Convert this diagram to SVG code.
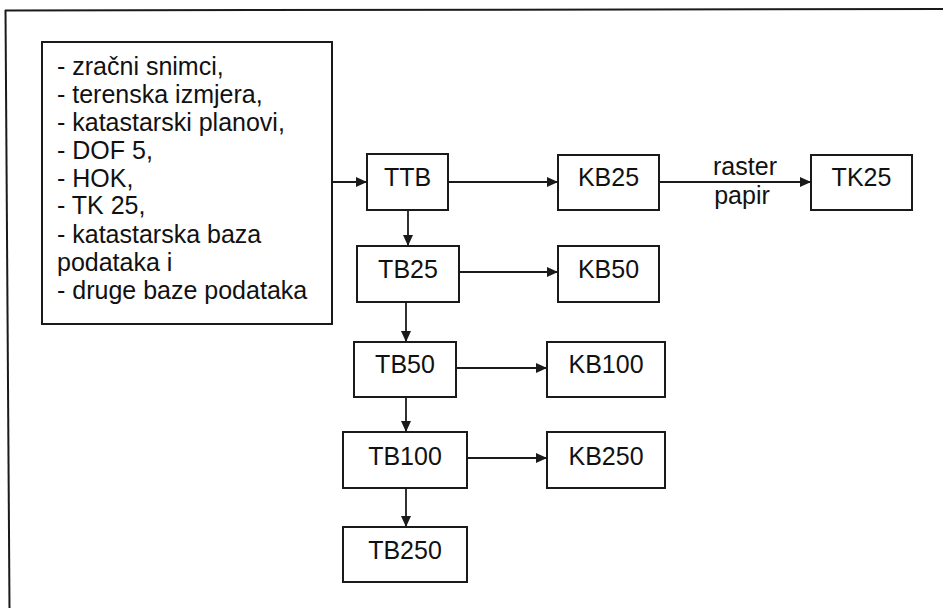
<svg xmlns="http://www.w3.org/2000/svg" width="943" height="608" viewBox="0 0 943 608">
<style>
  .box { fill: #fff; stroke: #1a1a1a; stroke-width: 2; }
  .lbl { font-family: "Liberation Sans", Arial, sans-serif; font-size: 25px; fill: #111; text-anchor: middle; }
  .src { font-family: "Liberation Sans", Arial, sans-serif; font-size: 25px; fill: #111; }
  .edge { fill: none; stroke: #1a1a1a; stroke-width: 1.8; marker-end: url(#arr); }
  .frame { fill: none; stroke: #1a1a1a; stroke-width: 2; }
</style>
<defs>
  <marker id="arr" viewBox="0 0 11 10" refX="11" refY="5" markerWidth="11" markerHeight="10" markerUnits="userSpaceOnUse" orient="auto">
    <path d="M0,0 L11,5 L0,10 Z" fill="#1a1a1a"/>
  </marker>
</defs>
<rect width="943" height="608" fill="#fff"/>
<g id="frame">
  <path class="frame" d="M5,10.5 L943,9"/>
  <path class="frame" d="M5.5,10 L9.5,608"/>
</g>
<g id="sources">
  <rect class="box" x="42" y="42" width="290" height="282"/>
  <text class="src" x="57" y="75">- zračni snimci,</text>
  <text class="src" x="57" y="103">- terenska izmjera,</text>
  <text class="src" x="57" y="131">- katastarski planovi,</text>
  <text class="src" x="57" y="159">- DOF 5,</text>
  <text class="src" x="57" y="187">- HOK,</text>
  <text class="src" x="57" y="214">- TK 25,</text>
  <text class="src" x="57" y="243">- katastarska baza</text>
  <text class="src" x="57" y="271">podataka i</text>
  <text class="src" x="57" y="299">- druge baze podataka</text>
</g>
<g id="TTB"><rect class="box" x="367" y="154" width="81" height="56"/><text class="lbl" x="407.5" y="186">TTB</text></g>
<g id="KB25"><rect class="box" x="558" y="155" width="101" height="55"/><text class="lbl" x="608.5" y="186">KB25</text></g>
<g id="TK25"><rect class="box" x="811" y="155" width="101" height="55"/><text class="lbl" x="861.5" y="186">TK25</text></g>
<g id="TB25"><rect class="box" x="357" y="246" width="102" height="56"/><text class="lbl" x="408" y="278">TB25</text></g>
<g id="KB50"><rect class="box" x="558" y="246" width="101" height="56"/><text class="lbl" x="608.5" y="278">KB50</text></g>
<g id="TB50"><rect class="box" x="354" y="342" width="102" height="55"/><text class="lbl" x="405" y="373">TB50</text></g>
<g id="KB100"><rect class="box" x="547" y="342" width="118" height="55"/><text class="lbl" x="606" y="373">KB100</text></g>
<g id="TB100"><rect class="box" x="343" y="432" width="124" height="56"/><text class="lbl" x="405" y="465">TB100</text></g>
<g id="KB250"><rect class="box" x="547" y="432" width="118" height="56"/><text class="lbl" x="606" y="465">KB250</text></g>
<g id="TB250"><rect class="box" x="343" y="527" width="124" height="55"/><text class="lbl" x="405" y="559">TB250</text></g>
<g id="connectors">
  <path class="edge" d="M332,182 L367,182"/>
  <path class="edge" d="M448,182 L558,182"/>
  <path class="edge" d="M659,182 L811,182"/>
  <text class="lbl" x="745" y="175">raster</text>
  <text class="lbl" x="742" y="204">papir</text>
  <path class="edge" d="M408,210 L408,246"/>
  <path class="edge" d="M459,272 L558,272"/>
  <path class="edge" d="M406,302 L406,342"/>
  <path class="edge" d="M456,368 L547,368"/>
  <path class="edge" d="M406,397 L406,432"/>
  <path class="edge" d="M467,458 L547,458"/>
  <path class="edge" d="M406,488 L406,527"/>
</g>
</svg>
